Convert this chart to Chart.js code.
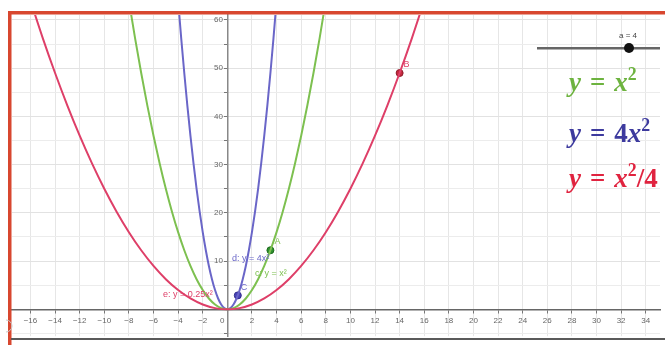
<!DOCTYPE html>
<html>
<head>
<meta charset="utf-8">
<script src="https://cdn.jsdelivr.net/npm/chart.js@4.4.1/dist/chart.umd.min.js"></script>
<style>
  html, body { margin: 0; padding: 0; background: #fff; }
  canvas { display: block; }
</style>
</head>
<body>
<canvas id="grafica" width="665" height="345"></canvas>
<script>
// =========================================
// DATOS
// =========================================
const xRed = [-16,-15,-14,-13,-12,-11,-10,-9,-8,-7,-6,-5,-4,-3,-2,-1,0,1,2,3,4,5,6,7,8,9,10,11,12,13,14,15,16];
const xGreen = [-8,-7.5,-7,-6.5,-6,-5.5,-5,-4.5,-4,-3.5,-3,-2.5,-2,-1.5,-1,-0.5,0,0.5,1,1.5,2,2.5,3,3.5,4,4.5,5,5.5,6,6.5,7,7.5,8];
const xBlue = [-4,-3.75,-3.5,-3.25,-3,-2.75,-2.5,-2.25,-2,-1.75,-1.5,-1.25,-1,-0.75,-0.5,-0.25,0,0.25,0.5,0.75,1,1.25,1.5,1.75,2,2.25,2.5,2.75,3,3.25,3.5,3.75,4];
// the three curves share the same y values at these x samples
const yVals = [64,56.25,49,42.25,36,30.25,25,20.25,16,12.25,9,6.25,4,2.25,1,0.25,0,0.25,1,2.25,4,6.25,9,12.25,16,20.25,25,30.25,36,42.25,49,56.25,64];

const pointA = [3.5, 12.25];
const pointB = [14, 49];
const pointC = [0.85, 2.89];

const sliderValue = 4;

// =========================================
// COLORES
// =========================================
const rojo = '#de3f68';
const verde = '#7dc050';
const azul = '#6a66c8';

function serie(xs, ys){
  return xs.map((x, i) => ({ x: x, y: ys[i] }));
}

function curva(data, color){
  return {
    type: 'line',
    data: data,
    borderColor: color,
    borderWidth: 2,
    pointRadius: 0,
    cubicInterpolationMode: 'monotone',
    fill: false
  };
}

function punto(p, fill, border){
  return {
    type: 'scatter',
    data: [{ x: p[0], y: p[1] }],
    backgroundColor: fill,
    borderColor: border,
    borderWidth: 1,
    pointRadius: 3.5
  };
}

// =========================================
// DECORACION (marco, textos, deslizador)
// =========================================
function texto(ctx, partes, x, y, size){
  partes.forEach(p => {
    const s = p.sup ? size * 0.66 : size;
    const estilo = p.it ? 'italic bold ' : 'bold ';
    ctx.font = estilo + s + 'px "Liberation Serif"';
    ctx.fillStyle = p.c;
    x += p.gap || 0;
    ctx.fillText(p.t, x, p.sup ? y - size * 0.42 : y);
    x += ctx.measureText(p.t).width + (p.gap || 0);
  });
}

const decoracion = {
  id: 'decoracion',
  afterDraw(chart){
    const ctx = chart.ctx;
    const sx = chart.scales.x, sy = chart.scales.y;
    ctx.save();

    // marco
    ctx.fillStyle = '#d8472f';
    ctx.fillRect(8, 11, 3.5, 334);
    ctx.fillRect(8, 11, 657, 3.5);
    ctx.fillStyle = '#5a5a5a';
    ctx.fillRect(11, 338, 654, 2);

    // icono a la izquierda
    ctx.beginPath();
    ctx.arc(6, 326, 6, -Math.PI / 2, Math.PI / 2);
    ctx.strokeStyle = '#c8c8c8';
    ctx.lineWidth = 1;
    ctx.stroke();

    // cero del eje
    ctx.font = '8px "Liberation Sans"';
    ctx.fillStyle = '#666';
    ctx.textAlign = 'center';
    ctx.textBaseline = 'middle';
    ctx.fillText('0', sx.getPixelForValue(0) - 5, sy.getPixelForValue(0) + 11);

    // etiquetas de curvas
    ctx.font = '9px "Liberation Sans"';
    ctx.textAlign = 'left';
    ctx.fillStyle = azul;
    ctx.fillText('d: y = 4x²', 232, 259);
    ctx.fillStyle = verde;
    ctx.fillText('c: y = x²', 255, 274);
    ctx.fillStyle = rojo;
    ctx.fillText('e: y = 0.25x²', 163, 295);

    // etiquetas de puntos
    ctx.fillStyle = verde;
    ctx.fillText('A', sx.getPixelForValue(pointA[0]) + 4, sy.getPixelForValue(pointA[1]) - 9);
    ctx.fillStyle = rojo;
    ctx.fillText('B', sx.getPixelForValue(pointB[0]) + 4, sy.getPixelForValue(pointB[1]) - 9);
    ctx.fillStyle = azul;
    ctx.fillText('C', sx.getPixelForValue(pointC[0]) + 3, sy.getPixelForValue(pointC[1]) - 8);

    // deslizador
    ctx.fillStyle = '#666';
    ctx.fillRect(537, 47, 123, 2.5);
    ctx.beginPath();
    ctx.arc(629, 48, 5, 0, Math.PI * 2);
    ctx.fillStyle = '#111';
    ctx.fill();
    ctx.font = '8px "Liberation Sans"';
    ctx.fillStyle = '#444';
    ctx.textAlign = 'center';
    ctx.fillText('a = ' + sliderValue, 628, 36);

    // formulas
    ctx.textAlign = 'left';
    ctx.textBaseline = 'alphabetic';
    const gv = '#6db33f', az = '#3d3a9e', rj = '#e0233f';
    texto(ctx, [{t:'y', it:true, c:gv}, {t:'=', c:gv, gap:9}, {t:'x', it:true, c:gv}, {t:'2', sup:true, c:gv}], 569, 91, 27);
    texto(ctx, [{t:'y', it:true, c:az}, {t:'=', c:az, gap:9}, {t:'4', c:az}, {t:'x', it:true, c:az}, {t:'2', sup:true, c:az}], 569, 142, 27);
    texto(ctx, [{t:'y', it:true, c:rj}, {t:'=', c:rj, gap:9}, {t:'x', it:true, c:rj}, {t:'2', sup:true, c:rj}, {t:'/4', c:rj}], 569, 187, 27);

    ctx.restore();
  }
};

// =========================================
// GRAFICA
// =========================================
new Chart(document.getElementById('grafica'), {

  data: {
    datasets: [
      curva(serie(xRed, yVals), rojo),
      curva(serie(xGreen, yVals), verde),
      curva(serie(xBlue, yVals), azul),
      punto(pointA, '#2f8f2f', '#1d6b1d'),
      punto(pointB, '#c42a3e', '#8e1b2a'),
      punto(pointC, '#4944b8', '#2e2a8a')
    ]
  },

  options: {
    responsive: false,
    animation: false,
    devicePixelRatio: 1,
    layout: { padding: { left: 12, top: 15, right: 0, bottom: 7 } },
    plugins: {
      legend: { display: false },
      tooltip: { enabled: false }
    },
    scales: {
      x: {
        type: 'linear',
        position: { y: 0 },
        min: -17.5,
        max: 35.16,
        ticks: {
          stepSize: 2,
          includeBounds: false,
          autoSkip: false,
          maxRotation: 0,
          font: { size: 8, family: 'Liberation Sans' },
          color: '#666',
          padding: 4,
          callback: v => v === 0 ? '' : String(v).replace('-', '\u2212')
        },
        grid: {
          color: '#e6e6e6',
          lineWidth: 1,
          tickLength: 3,
          tickColor: '#777'
        },
        border: { color: '#666', width: 1.5 }
      },
      y: {
        type: 'linear',
        position: { x: 0 },
        min: -5.57,
        max: 61.03,
        ticks: {
          stepSize: 5,
          includeBounds: false,
          autoSkip: false,
          font: { size: 8, family: 'Liberation Sans' },
          color: '#666',
          padding: 4,
          // trailing spaces keep the label clear of the axis line
          callback: v => (v !== 0 && v % 10 === 0) ? String(v) + '  ' : ''
        },
        grid: {
          color: ctx => (ctx.tick && ctx.tick.value % 10 === 0) ? '#e2e2e2' : '#ececec',
          lineWidth: 1,
          tickLength: 3,
          tickColor: '#777'
        },
        border: { color: '#888', width: 1.5 }
      }
    }
  },

  plugins: [decoracion]

});
</script>
</body>
</html>
